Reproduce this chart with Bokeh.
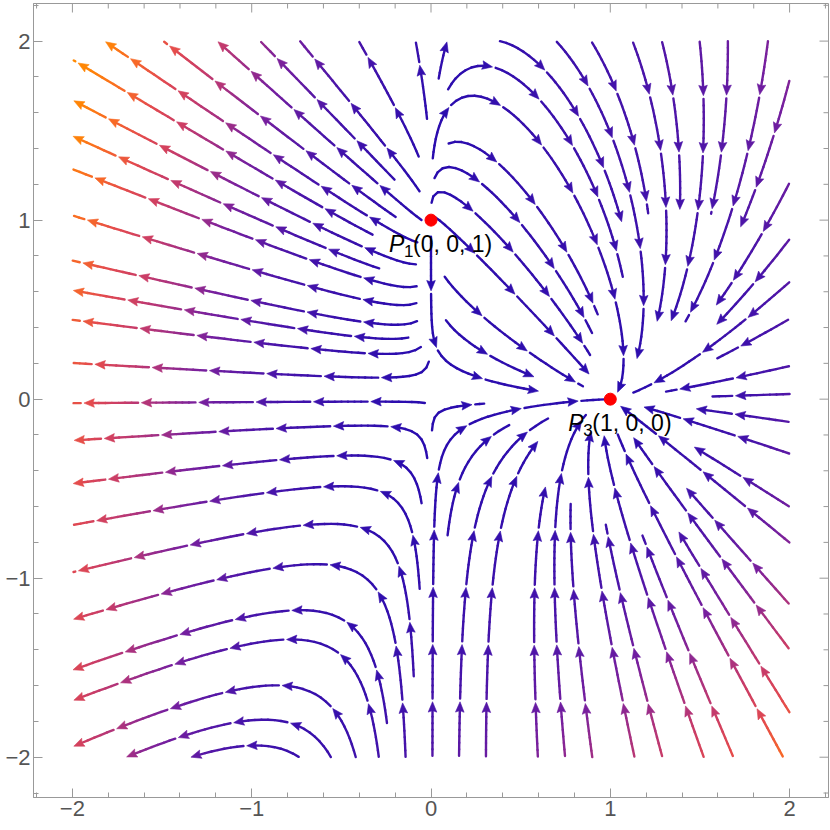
import numpy as np
from bokeh.plotting import figure
from bokeh.models import FixedTicker, Range1d
from bokeh.core.properties import value
from bokeh.embed import file_html
from bokeh.resources import INLINE

# ---- data: vector field x' = x*(a0 + a1*x + a2*y), y' = y*(b0 + b1*x + b2*y)
X_COEF = [3.0, -3.0, 1.0]
Y_COEF = [-1.0, -3.0, 1.0]
FIELD_BOX = [-2.0, 2.0, -2.0, 2.0]
POINT_X = [0.0, 1.0]
POINT_Y = [1.0, 0.0]
POINT_NAME = ["P", "P"]
POINT_SUB = ["1", "3"]
POINT_COORDS = ["(0, 0, 1)", "(1, 0, 0)"]
TICKS = [-2, -1, 0, 1, 2]
TICK_TEXT = ["\u22122", "\u22121", "0", "1", "2"]
SPEED_STOPS = [0, 5, 9, 12, 14, 17, 20, 23, 26]
COLOR_STOPS = [(40, 12, 175), (72, 20, 170), (120, 32, 158), (170, 50, 128),
               (200, 60, 105), (228, 75, 78), (248, 105, 40), (255, 130, 10),
               (255, 140, 0)]

DSEP = 0.15
DTEST = 0.075
H = 0.01
SMIN = 0.08
PIECE = 0.32
GAP = 0.018
HEAD_LEN = 0.058
HEAD_HW = 0.024
X0, X1, Y0, Y1 = FIELD_BOX
XR = (-2.217, 2.217)
YR = (-2.225, 2.21)
FW, FH = 795, 794


def vel(x, y):
    u = x * (X_COEF[0] + X_COEF[1] * x + X_COEF[2] * y)
    v = y * (Y_COEF[0] + Y_COEF[1] * x + Y_COEF[2] * y)
    return u, v


def unit(x, y):
    u, v = vel(x, y)
    s = (u * u + v * v) ** 0.5
    if s < 1e-12:
        return 0.0, 0.0, 0.0
    return u / s, v / s, s


def rk4(x, y, h):
    a1, b1, _ = unit(x, y)
    a2, b2, _ = unit(x + 0.5 * h * a1, y + 0.5 * h * b1)
    a3, b3, _ = unit(x + 0.5 * h * a2, y + 0.5 * h * b2)
    a4, b4, _ = unit(x + h * a3, y + h * b3)
    return (x + h * (a1 + 2 * a2 + 2 * a3 + a4) / 6.0,
            y + h * (b1 + 2 * b2 + 2 * b3 + b4) / 6.0)


class Grid:
    def __init__(self, cell):
        self.cell = cell
        self.d = {}

    def key(self, x, y):
        return (int(np.floor(x / self.cell)), int(np.floor(y / self.cell)))

    def add(self, x, y):
        self.d.setdefault(self.key(x, y), []).append((x, y))

    def near(self, x, y, r):
        i, j = self.key(x, y)
        r2 = r * r
        for di in (-1, 0, 1):
            for dj in (-1, 0, 1):
                for (a, b) in self.d.get((i + di, j + dj), ()):
                    if (a - x) ** 2 + (b - y) ** 2 < r2:
                        return True
        return False


grid = Grid(DSEP)


def inside(x, y):
    return X0 <= x <= X1 and Y0 <= y <= Y1


def trace(x0, y0, sign):
    pts = []
    x, y = x0, y0
    for _ in range(1200):
        nx, ny = rk4(x, y, sign * H)
        if not inside(nx, ny):
            break
        if unit(nx, ny)[2] < SMIN:
            break
        if grid.near(nx, ny, DTEST):
            break
        pts.append((nx, ny))
        x, y = nx, ny
    return pts


lines = []


def try_seed(x, y):
    if not inside(x, y):
        return None
    if unit(x, y)[2] < SMIN * 2:
        return None
    if grid.near(x, y, DSEP):
        return None
    back = trace(x, y, -1.0)
    fwd = trace(x, y, 1.0)
    pts = back[::-1] + [(x, y)] + fwd
    if len(pts) < 12:
        return None
    for (a, b) in pts:
        grid.add(a, b)
    lines.append(pts)
    return pts


def grow(first):
    queue = [first]
    while queue:
        ln = queue.pop(0)
        for k in range(0, len(ln), 4):
            x, y = ln[k]
            dx, dy, _ = unit(x, y)
            for sg in (1, -1):
                nl = try_seed(x - sg * dy * DSEP, y + sg * dx * DSEP)
                if nl is not None:
                    queue.append(nl)


for gx in np.linspace(-1.9, 1.9, 15):
    for gy in np.linspace(-1.9, 1.9, 15):
        ln = try_seed(gx, gy)
        if ln is not None:
            grow(ln)


def color_of(spd):
    r = np.interp(spd, SPEED_STOPS, [c[0] for c in COLOR_STOPS])
    g = np.interp(spd, SPEED_STOPS, [c[1] for c in COLOR_STOPS])
    b = np.interp(spd, SPEED_STOPS, [c[2] for c in COLOR_STOPS])
    return "#%02x%02x%02x" % (int(r), int(g), int(b))


seg_x, seg_y, seg_c = [], [], []
head_x, head_y, head_c = [], [], []
for ln in lines:
    P = np.array(ln)
    d = np.hypot(np.diff(P[:, 0]), np.diff(P[:, 1]))
    s = np.concatenate([[0.0], np.cumsum(d)])
    total = s[-1]

    def at(t):
        return float(np.interp(t, s, P[:, 0])), float(np.interp(t, s, P[:, 1]))

    k = 0
    while k * PIECE < total - 1e-9:
        a = k * PIECE
        b = min(a + PIECE - GAP, total)
        plen = b - a
        head = plen > 0.45 * PIECE
        lend = b - HEAD_LEN * 0.8 if head else b
        if lend - a > 0.005:
            n = max(2, int(np.ceil((lend - a) / 0.04)) + 1)
            ts = np.linspace(a, lend, n)
            for i in range(n - 1):
                xa, ya = at(ts[i])
                xb, yb = at(ts[i + 1])
                seg_x.append([xa, xb])
                seg_y.append([ya, yb])
                seg_c.append(color_of(unit(0.5 * (xa + xb), 0.5 * (ya + yb))[2]))
        if head:
            tx, ty = at(b)
            px, py = at(b - 0.03)
            ddx, ddy = tx - px, ty - py
            nn = np.hypot(ddx, ddy)
            ddx, ddy = ddx / nn, ddy / nn
            bx, by = tx - HEAD_LEN * ddx, ty - HEAD_LEN * ddy
            nx, ny = -ddy, ddx
            head_x.append([tx, bx + HEAD_HW * nx, bx + 0.15 * HEAD_LEN * ddx, bx - HEAD_HW * nx])
            head_y.append([ty, by + HEAD_HW * ny, by + 0.15 * HEAD_LEN * ddy, by - HEAD_HW * ny])
            head_c.append(color_of(unit(tx, ty)[2]))
        k += 1

p = figure(frame_width=FW, frame_height=FH,
           x_range=Range1d(*XR), y_range=Range1d(*YR),
           output_backend="svg", toolbar_location=None,
           min_border_left=33, min_border_right=2, min_border_top=3, min_border_bottom=28)
p.grid.visible = False
p.outline_line_color = "#999999"
p.background_fill_color = "white"

p.multi_line(xs=seg_x, ys=seg_y, line_color=seg_c, line_width=2.4, line_cap="round")
p.patches(xs=head_x, ys=head_y, fill_color=head_c, line_color=head_c, line_width=0.6)

p.scatter(POINT_X, POINT_Y, size=12, color="#ff0000")

font = value("Liberation Sans")
p.text(x=POINT_X, y=POINT_Y, text=POINT_NAME, x_offset=-42, y_offset=24,
       text_font=font, text_font_style="italic", text_font_size="23px",
       text_baseline="alphabetic", text_align="left", text_color="black")
p.text(x=POINT_X, y=POINT_Y, text=POINT_SUB, x_offset=-27, y_offset=31,
       text_font=font, text_font_size="17px",
       text_baseline="alphabetic", text_align="left", text_color="black")
p.text(x=POINT_X, y=POINT_Y, text=POINT_COORDS, x_offset=-18, y_offset=24,
       text_font=font, text_font_size="23px",
       text_baseline="alphabetic", text_align="left", text_color="black")

minor = [v / 10.0 for v in range(-22, 23, 2)]
labels = {t: lab for t, lab in zip(TICKS, TICK_TEXT)}

for ax in (p.xaxis[0], p.yaxis[0]):
    ax.ticker = FixedTicker(ticks=TICKS, minor_ticks=minor)
    ax.axis_line_color = "#999999"
    ax.major_tick_line_color = "#999999"
    ax.minor_tick_line_color = "#999999"
    ax.major_tick_in = 9
    ax.major_tick_out = 0
    ax.minor_tick_in = 5
    ax.minor_tick_out = 0
    ax.major_label_overrides = labels
    ax.major_label_text_font = "Liberation Sans"
    ax.major_label_text_font_size = "22px"
    ax.major_label_text_color = "#555555"
    ax.major_label_standoff = 3

# mirrored frame ticks on top and right edges (lengths in pixels -> data units)
ux = (XR[1] - XR[0]) / FW
uy = (YR[1] - YR[0]) / FH
tx0, tx1, ty0, ty1 = [], [], [], []
for t in minor:
    ln_px = 9 if abs(t - round(t)) < 1e-9 and round(t) in TICKS else 5
    tx0 += [t, XR[1]]
    tx1 += [t, XR[1] - ln_px * ux]
    ty0 += [YR[1], t]
    ty1 += [YR[1] - ln_px * uy, t]
p.segment(x0=tx0, y0=ty0, x1=tx1, y1=ty1, line_color="#999999", line_width=1)

open("out.html", "w").write(file_html(p, INLINE))
